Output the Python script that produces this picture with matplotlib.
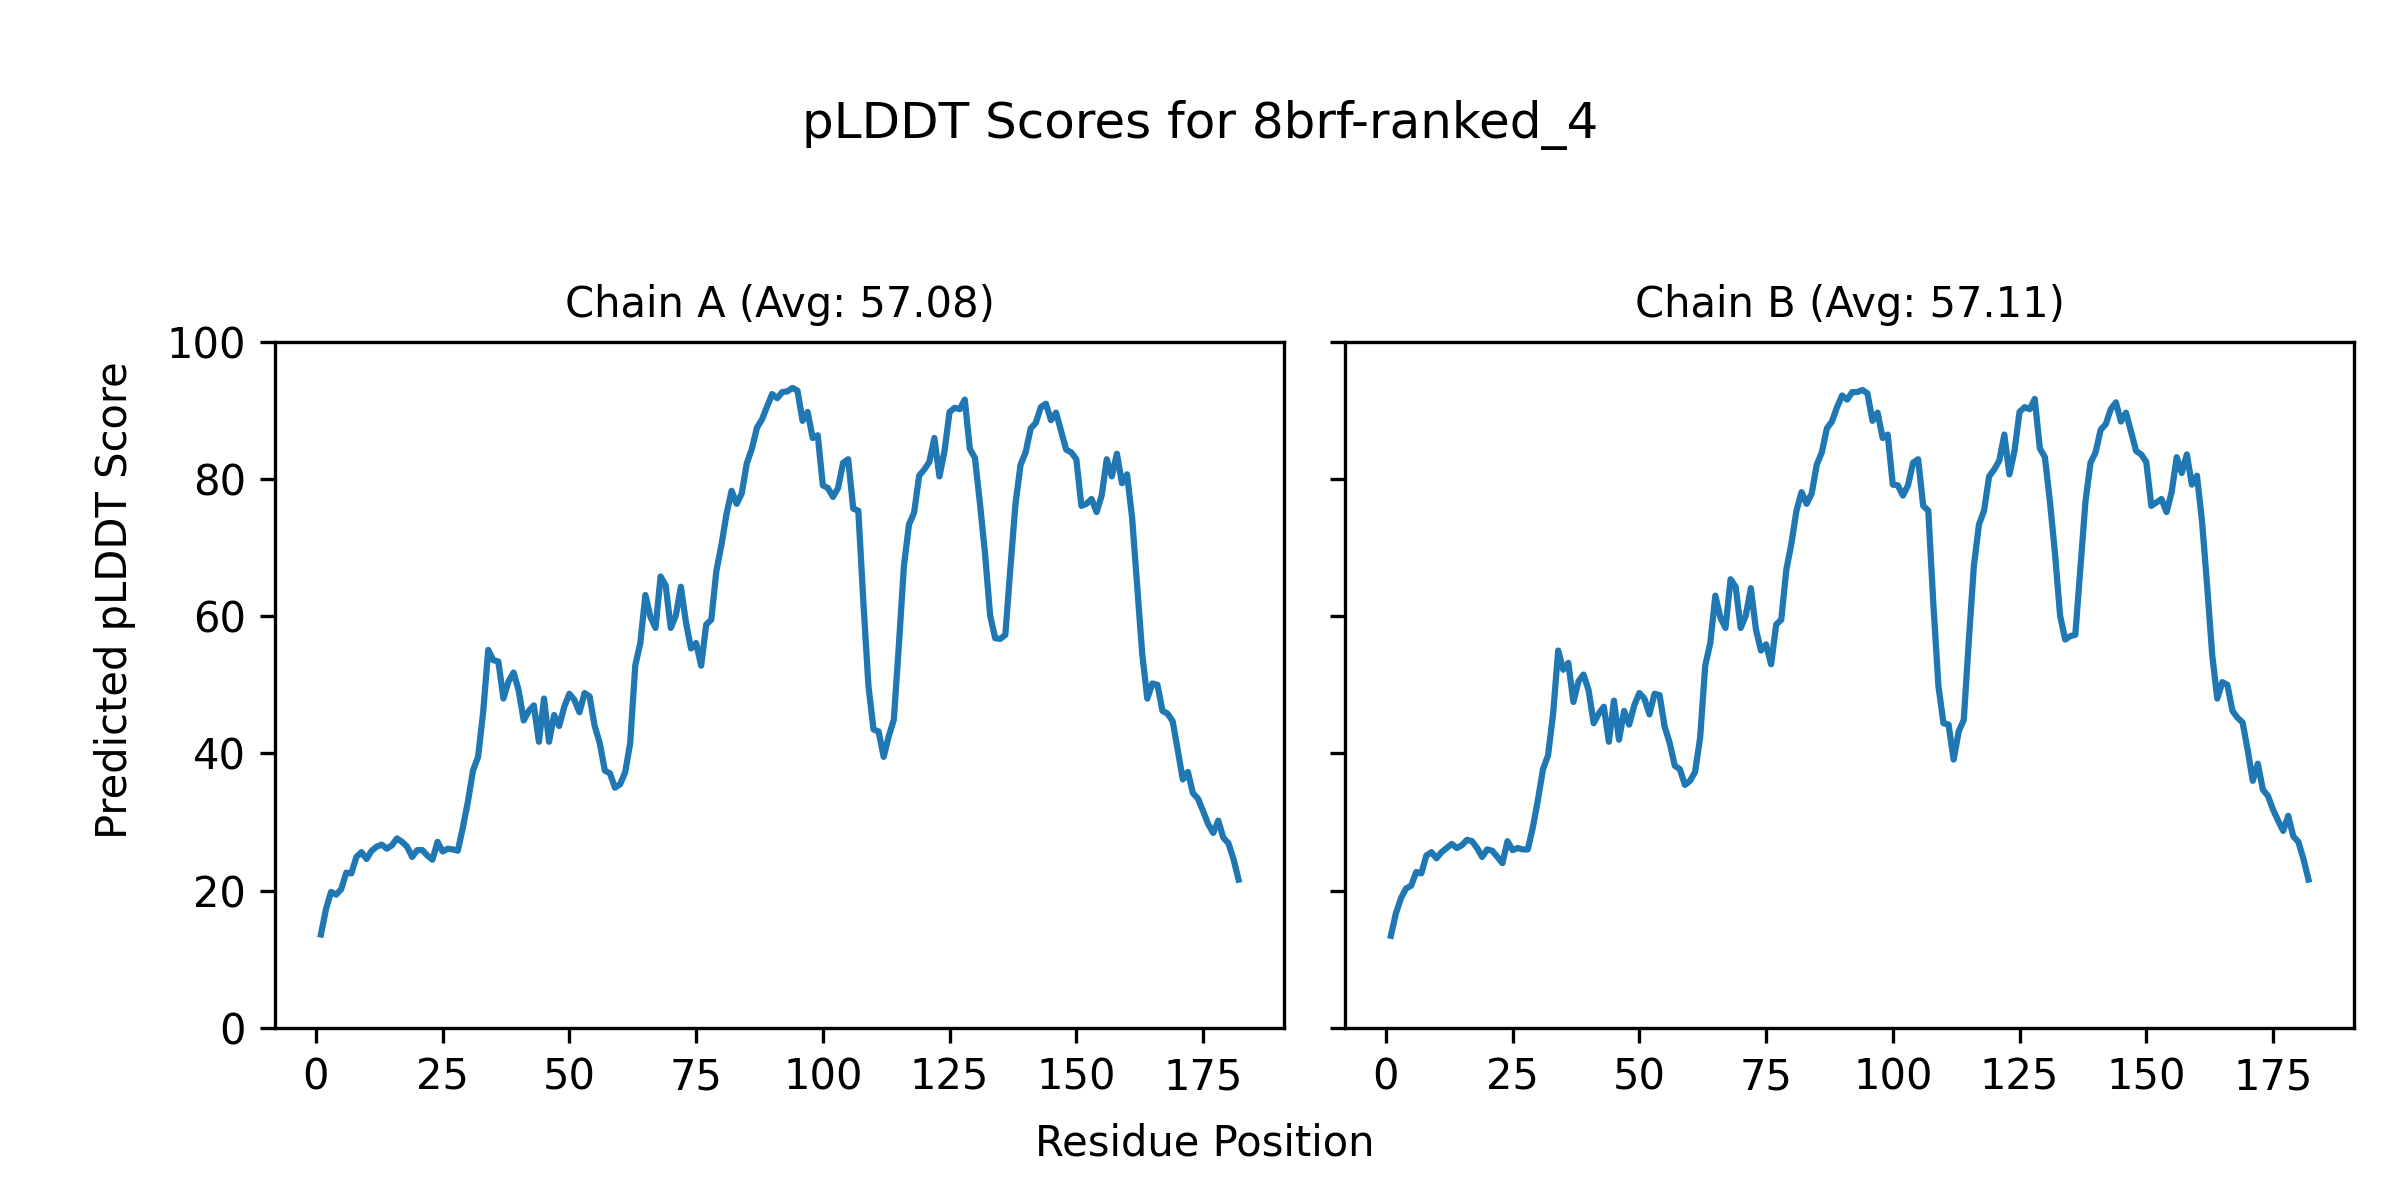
import numpy as np
import matplotlib
matplotlib.use('Agg')
import matplotlib.pyplot as plt

model_name = '8brf-ranked_4'

# per-residue pLDDT, residues 1..182
chain_a = [13.6, 17.3, 19.8, 19.4, 20.2, 22.6, 22.5, 24.9, 25.6, 24.6,
           25.8, 26.4, 26.7, 26.1, 26.6, 27.6, 27.1, 26.4, 24.9, 25.9,
           25.9, 25.1, 24.5, 27.1, 25.7, 26.1, 26.0, 25.8, 29.2, 33.0,
           37.5, 39.5, 46.0, 55.1, 53.6, 53.4, 48.0, 50.5, 51.8, 49.2,
           44.8, 46.2, 47.0, 41.7, 48.0, 41.7, 45.6, 44.0, 46.8, 48.7,
           47.8, 46.0, 48.8, 48.3, 44.0, 41.5, 37.5, 37.1, 35.0, 35.5,
           37.2, 41.5, 52.8, 56.1, 63.1, 59.9, 58.3, 65.8, 64.5, 58.3,
           60.1, 64.3, 59.1, 55.3, 56.1, 52.8, 58.8, 59.5, 66.6, 70.4,
           74.9, 78.3, 76.4, 77.9, 82.3, 84.4, 87.5, 88.7, 90.6, 92.4,
           91.8, 92.7, 92.8, 93.3, 92.9, 88.5, 89.8, 86.0, 86.4, 79.1,
           78.7, 77.4, 78.7, 82.4, 82.9, 75.7, 75.4, 62.0, 49.8, 43.5,
           43.2, 39.5, 42.5, 44.9, 55.8, 67.4, 73.4, 75.1, 80.5, 81.4,
           82.5, 86.0, 80.4, 84.1, 89.8, 90.4, 90.2, 91.6, 84.4, 83.1,
           76.4, 69.1, 60.1, 56.8, 56.7, 57.3, 67.1, 76.4, 82.1, 83.9,
           87.4, 88.2, 90.5, 91.0, 88.6, 89.7, 87.0, 84.3, 83.9, 82.9,
           76.1, 76.4, 77.1, 75.2, 77.6, 82.9, 80.4, 83.7, 79.4, 80.7,
           74.4, 64.5, 54.5, 48.0, 50.2, 50.0, 46.2, 45.8, 44.7, 40.5,
           36.2, 37.3, 34.2, 33.4, 31.6, 29.7, 28.4, 30.2, 27.7, 26.9,
           24.6, 21.6]

chain_b = [13.4, 16.7, 18.9, 20.3, 20.7, 22.7, 22.5, 25.1, 25.6, 24.7,
           25.6, 26.2, 26.8, 26.2, 26.6, 27.4, 27.2, 26.2, 24.9, 26.0,
           25.8, 24.9, 24.0, 27.2, 25.9, 26.2, 26.0, 26.0, 29.2, 33.2,
           37.7, 39.7, 45.8, 55.0, 52.2, 53.2, 47.5, 50.5, 51.5, 49.2,
           44.4, 45.8, 46.8, 41.7, 47.7, 42.0, 46.2, 44.2, 47.0, 48.8,
           48.0, 45.7, 48.7, 48.5, 43.9, 41.5, 38.2, 37.7, 35.4, 36.0,
           37.3, 42.3, 52.8, 56.1, 63.0, 59.8, 58.3, 65.4, 64.3, 58.3,
           60.1, 64.1, 58.1, 55.0, 55.9, 53.0, 58.8, 59.5, 66.8, 70.6,
           75.4, 78.1, 76.4, 77.9, 82.1, 83.9, 87.4, 88.4, 90.5, 92.2,
           91.6, 92.7, 92.7, 93.0, 92.5, 88.5, 89.7, 86.0, 86.5, 79.2,
           79.1, 77.6, 79.1, 82.4, 82.9, 76.1, 75.4, 61.8, 49.8, 44.4,
           44.2, 39.1, 43.2, 44.9, 56.5, 67.4, 73.4, 75.4, 80.4, 81.4,
           82.7, 86.5, 80.7, 84.1, 89.8, 90.5, 90.2, 91.7, 84.5, 83.2,
           76.7, 69.1, 60.1, 56.6, 57.1, 57.3, 67.1, 76.7, 82.4, 83.9,
           87.2, 88.0, 90.2, 91.2, 88.4, 89.7, 86.9, 84.1, 83.6, 82.5,
           76.1, 76.6, 77.1, 75.2, 78.1, 83.2, 80.9, 83.6, 79.2, 80.5,
           73.8, 64.5, 54.4, 48.0, 50.4, 50.0, 46.2, 45.2, 44.5, 40.5,
           36.0, 38.5, 34.7, 33.8, 31.8, 30.2, 28.7, 30.9, 27.9, 27.1,
           24.6, 21.6]

chains = {'A': (chain_a, 57.08), 'B': (chain_b, 57.11)}

fig, axes = plt.subplots(1, 2, figsize=(8, 4), dpi=300, sharey=True)
for ax, (name, (scores, avg)) in zip(axes, chains.items()):
    res = np.arange(1, len(scores) + 1)
    ax.plot(res, scores)
    ax.set_title(f'Chain {name} (Avg: {avg:.2f})', fontsize=10)
    ax.set_ylim(0, 100)
    ax.set_xticks(range(0, 176, 25))

fig.suptitle(f'pLDDT Scores for {model_name}', fontsize=12, y=0.917)
fig.text(0.502, 0.037, 'Residue Position', ha='center', fontsize=10)
fig.text(0.048, 0.5, 'Predicted pLDDT Score', rotation=90, ha='center', va='center', fontsize=10)
fig.subplots_adjust(left=0.1146, right=0.981, bottom=0.1436, top=0.715, wspace=0.06)
fig.savefig('out.png', dpi=300)
